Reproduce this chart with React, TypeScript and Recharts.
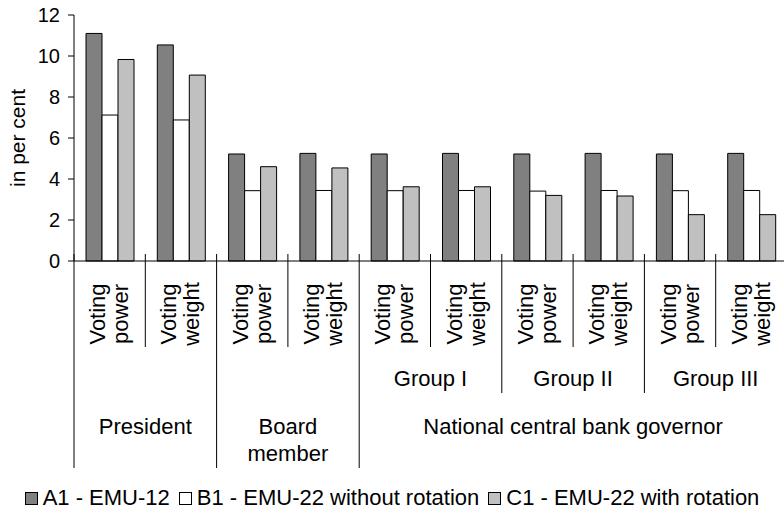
import { Bar, BarChart, Label, Legend, XAxis, YAxis } from "recharts";

// category levels, left to right
const measures = [
  "Voting power",
  "Voting weight",
  "Voting power",
  "Voting weight",
  "Voting power",
  "Voting weight",
  "Voting power",
  "Voting weight",
  "Voting power",
  "Voting weight",
];
const groups = ["", "", "", "", "Group I", "Group I", "Group II", "Group II", "Group III", "Group III"];
const roles = [
  "President",
  "President",
  "Board\nmember",
  "Board\nmember",
  "National central bank governor",
  "National central bank governor",
  "National central bank governor",
  "National central bank governor",
  "National central bank governor",
  "National central bank governor",
];

// values in per cent
const emu12 = [11.1, 10.54, 5.22, 5.25, 5.22, 5.25, 5.22, 5.25, 5.22, 5.25];
const emu22NoRotation = [7.12, 6.88, 3.43, 3.44, 3.43, 3.44, 3.41, 3.44, 3.43, 3.44];
const emu22Rotation = [9.83, 9.07, 4.6, 4.54, 3.62, 3.62, 3.2, 3.17, 2.26, 2.26];

const yTicks = [0, 2, 4, 6, 8, 10, 12];

const seriesNames = ["A1 - EMU-12", "B1 - EMU-22 without rotation", "C1 - EMU-22 with rotation"];
const seriesColors = ["#808080", "#ffffff", "#c0c0c0"];

const data = measures.map((m, i) => ({
  key: `${roles[i]}|${groups[i]}|${m}`,
  a: emu12[i],
  b: emu22NoRotation[i],
  c: emu22Rotation[i],
}));

const FONT = '"Liberation Sans", Arial, sans-serif';
const CHART_W = 790;
const CHART_H = 516;
const MARGIN = { top: 15, right: 3, bottom: 0, left: 0 };
const Y_AXIS_W = 74;
const BAND = (CHART_W - MARGIN.left - MARGIN.right - Y_AXIS_W) / data.length;

const spanOf = (arr: string[], i: number) => {
  let n = 1;
  while (i + n < arr.length && arr[i + n] === arr[i]) n++;
  return n;
};

const CategoryTick = (props: any) => {
  const { x, y, payload } = props;
  const i: number = payload?.index ?? props.index;
  const left = x - BAND / 2;
  const [l1, l2] = measures[i].split(" ");
  const newRole = i === 0 || roles[i] !== roles[i - 1];
  const newGroup = newRole || groups[i] !== groups[i - 1];
  const depth = newRole ? 207 : newGroup ? 132 : 86;

  let groupLabel = null;
  if (newGroup && groups[i]) {
    const cx = left + (spanOf(groups, i) * BAND) / 2;
    groupLabel = (
      <text x={cx} y={y + 125} textAnchor="middle" fontSize={22} fill="#000">
        {groups[i]}
      </text>
    );
  }

  let roleLabel = null;
  if (newRole) {
    const cx = left + (spanOf(roles, i) * BAND) / 2;
    roleLabel = roles[i].split("\n").map((t, k) => (
      <text key={k} x={cx} y={y + 173 + k * 27} textAnchor="middle" fontSize={22} fill="#000">
        {t}
      </text>
    ));
  }

  return (
    <g fontFamily={FONT}>
      <line x1={left} x2={left} y1={y - 7} y2={y + depth} stroke="#000" strokeWidth={1} />
      <g transform={`translate(${x},${y + 53}) rotate(-90)`}>
        <text x={0} y={-4.5} textAnchor="middle" fontSize={22} fill="#000">
          {l1}
        </text>
        <text x={0} y={18.5} textAnchor="middle" fontSize={22} fill="#000">
          {l2}
        </text>
      </g>
      {groupLabel}
      {roleLabel}
    </g>
  );
};

const YLabel = (props: any) => {
  const vb = props.viewBox || {};
  const cx = (vb.x ?? 0) + 17;
  const cy = (vb.y ?? 0) + (vb.height ?? 0) / 2;
  return (
    <text
      x={cx}
      y={cy}
      transform={`rotate(-90, ${cx}, ${cy})`}
      textAnchor="middle"
      dominantBaseline="central"
      fontSize={21}
      fontFamily={FONT}
      fill="#000"
    >
      in per cent
    </text>
  );
};

const renderLegend = () => (
  <div
    style={{
      display: "flex",
      justifyContent: "center",
      alignItems: "center",
      height: 40,
      paddingTop: 3,
      boxSizing: "border-box",
      fontFamily: FONT,
      fontSize: 22,
      color: "#000",
      whiteSpace: "nowrap",
    }}
  >
    {seriesNames.map((n, k) => (
      <span key={n} style={{ display: "flex", alignItems: "center", marginLeft: k ? 9 : 0 }}>
        <span
          style={{
            display: "inline-block",
            width: 11,
            height: 11,
            border: "1px solid #000",
            background: seriesColors[k],
            marginRight: 5,
            marginTop: 2,
          }}
        />
        {n}
      </span>
    ))}
  </div>
);

export default function App() {
  return (
    <div
      style={{
        position: "absolute",
        left: 0,
        top: 0,
        width: 784,
        height: 516,
        overflow: "hidden",
        background: "#fff",
      }}
    >
      <BarChart width={CHART_W} height={CHART_H} data={data} margin={MARGIN} barSize={16} barGap={0}>
        <XAxis
          dataKey="key"
          interval={0}
          height={215}
          tickLine={false}
          tickSize={0}
          tickMargin={0}
          axisLine={{ stroke: "#000" }}
          tick={<CategoryTick />}
        />
        <YAxis
          width={Y_AXIS_W}
          domain={[0, 12]}
          ticks={yTicks}
          interval={0}
          tickSize={6}
          tickMargin={8}
          axisLine={{ stroke: "#000" }}
          tickLine={{ stroke: "#000" }}
          tick={{ fill: "#000", fontSize: 20, fontFamily: FONT }}
        >
          <Label content={<YLabel />} />
        </YAxis>
        <Legend
          verticalAlign="bottom"
          content={renderLegend}
          wrapperStyle={{ left: 0, width: 784, bottom: 0, height: 40 }}
        />
        <Bar dataKey="a" name={seriesNames[0]} fill={seriesColors[0]} stroke="#000" strokeWidth={1} isAnimationActive={false} />
        <Bar dataKey="b" name={seriesNames[1]} fill={seriesColors[1]} stroke="#000" strokeWidth={1} isAnimationActive={false} />
        <Bar dataKey="c" name={seriesNames[2]} fill={seriesColors[2]} stroke="#000" strokeWidth={1} isAnimationActive={false} />
      </BarChart>
    </div>
  );
}
